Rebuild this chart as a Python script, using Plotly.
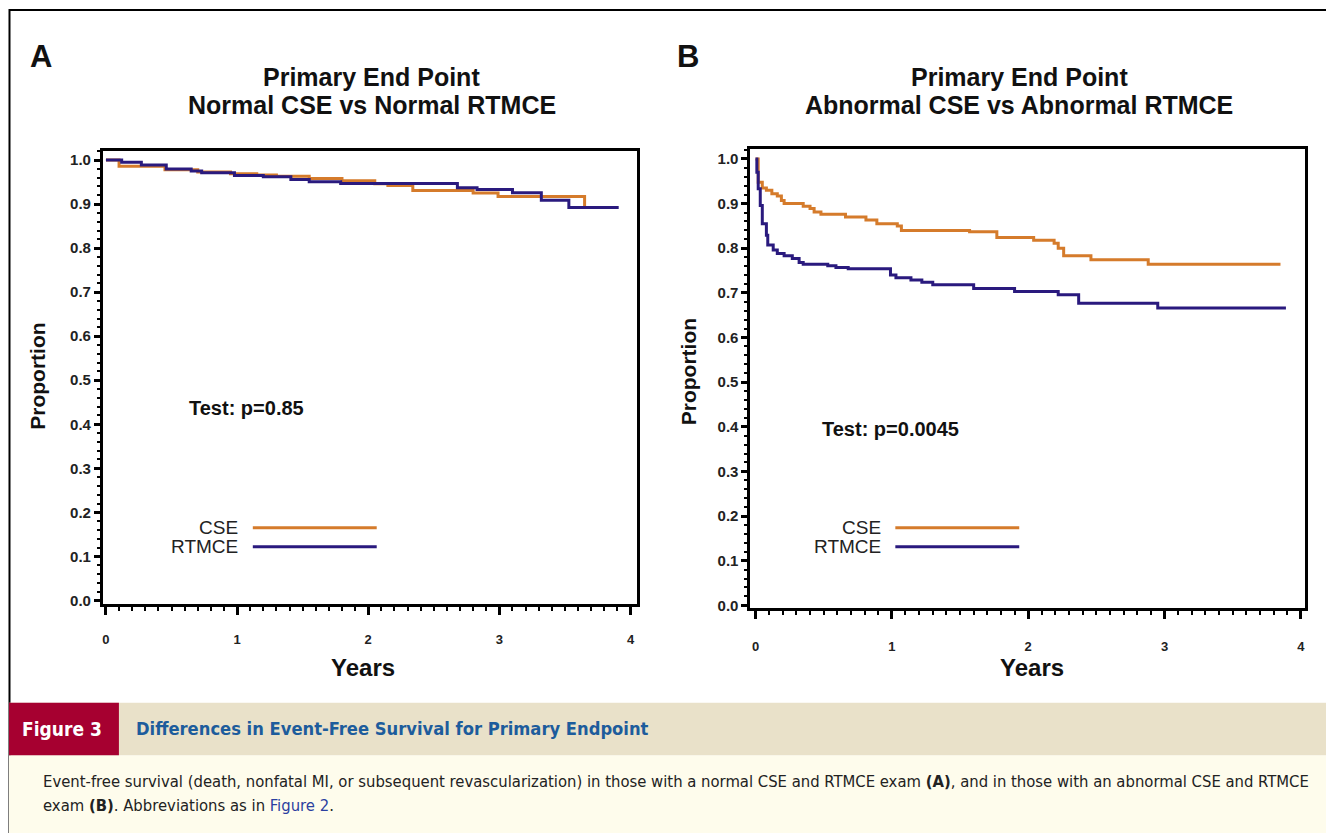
import plotly.graph_objects as go

# page body has an 8px margin; figure is sized and positioned to compensate
OFF = 8
W, H = 1334 - OFF, 833 - OFF

# ---------------- data ----------------
a_cse_t = [0, 0.10, 0.45, 0.70, 0.95, 1.15, 1.30, 1.55, 1.80, 2.05, 2.15, 2.34, 2.80, 2.99, 3.65]
a_cse_s = [1.0, 0.986, 0.978, 0.973, 0.969, 0.966, 0.963, 0.958, 0.953, 0.946, 0.942, 0.931, 0.925, 0.917, 0.892]
a_rt_t = [0, 0.12, 0.27, 0.46, 0.65, 0.73, 0.98, 1.20, 1.41, 1.55, 1.79, 2.68, 2.83, 3.10, 3.32, 3.53, 3.91]
a_rt_s = [1.0, 0.995, 0.989, 0.980, 0.975, 0.971, 0.965, 0.962, 0.956, 0.951, 0.947, 0.937, 0.933, 0.926, 0.909, 0.892, 0.892]

b_cse_t = [0, 0.02, 0.05, 0.08, 0.12, 0.16, 0.19, 0.21, 0.35, 0.40, 0.43, 0.48, 0.66, 0.81, 0.89,
           1.04, 1.07, 1.57, 1.77, 2.04, 2.19, 2.22, 2.26, 2.46, 2.88, 3.85]
b_cse_s = [1.0, 0.948, 0.935, 0.930, 0.922, 0.917, 0.907, 0.900, 0.894, 0.889, 0.881, 0.876, 0.870, 0.863, 0.855,
           0.850, 0.840, 0.837, 0.824, 0.818, 0.811, 0.800, 0.783, 0.774, 0.764, 0.764]
b_rt_t = [0, 0.01, 0.02, 0.035, 0.05, 0.08, 0.09, 0.13, 0.16, 0.21, 0.27, 0.32, 0.35, 0.53, 0.59, 0.68,
          0.99, 1.03, 1.14, 1.22, 1.30, 1.60, 1.90, 2.22, 2.37, 2.95, 3.89]
b_rt_s = [1.0, 0.97, 0.933, 0.896, 0.855, 0.829, 0.807, 0.796, 0.788, 0.783, 0.777, 0.768, 0.764, 0.761, 0.757, 0.754,
          0.740, 0.734, 0.729, 0.724, 0.718, 0.710, 0.703, 0.696, 0.677, 0.666, 0.666]

series_names = ["CSE", "RTMCE"]
x_ticks = [0, 1, 2, 3, 4]
y_ticks = [0.0, 0.1, 0.2, 0.3, 0.4, 0.5, 0.6, 0.7, 0.8, 0.9, 1.0]
y_ticktext = ["%.1f" % v for v in y_ticks]
p_values = ["Test: p=0.85", "Test: p=0.0045"]
panel_letters = ["A", "B"]
title_line1 = ["Primary End Point", "Primary End Point"]
title_line2 = ["Normal CSE vs Normal RTMCE", "Abnormal CSE vs Abnormal RTMCE"]

ORANGE = "#D57B2B"
NAVY = "#2A1A7E"
FONT = "Arial, Liberation Sans, Helvetica, sans-serif"
NARROW = "Liberation Sans Narrow, DejaVu Sans Condensed, Arial Narrow, sans-serif"


def px(x):
    return (x - OFF) / W


def py(y):
    return 1 - (y - OFF) / H


fig = go.Figure()
fig.add_trace(go.Scatter(x=a_cse_t, y=a_cse_s, mode="lines", line=dict(color=ORANGE, width=3, shape="hv"),
                         xaxis="x", yaxis="y", name=series_names[0]))
fig.add_trace(go.Scatter(x=a_rt_t, y=a_rt_s, mode="lines", line=dict(color=NAVY, width=3, shape="hv"),
                         xaxis="x", yaxis="y", name=series_names[1]))
fig.add_trace(go.Scatter(x=b_cse_t, y=b_cse_s, mode="lines", line=dict(color=ORANGE, width=3, shape="hv"),
                         xaxis="x2", yaxis="y2", name=series_names[0]))
fig.add_trace(go.Scatter(x=b_rt_t, y=b_rt_s, mode="lines", line=dict(color=NAVY, width=3, shape="hv"),
                         xaxis="x2", yaxis="y2", name=series_names[1]))


def xaxis_cfg(dom, rng, anchor, standoff):
    return dict(domain=dom, range=rng, anchor=anchor, showline=True, linecolor="black", linewidth=3,
                mirror=True, ticks="outside", ticklen=8, tickwidth=3, tickcolor="black",
                tickvals=x_ticks, ticktext=[str(v) for v in x_ticks], showgrid=False, zeroline=False,
                tickfont=dict(family=FONT, size=13, color="#222", weight="bold"),
                ticklabelstandoff=standoff,
                minor=dict(dtick=0.1, tick0=0, ticks="outside", ticklen=4, tickwidth=2, tickcolor="black",
                           showgrid=False))


def yaxis_cfg(dom, rng, anchor):
    return dict(domain=dom, range=rng, anchor=anchor, showline=True, linecolor="black", linewidth=3,
                mirror=True, ticks="outside", ticklen=6, tickwidth=3, tickcolor="black",
                tickvals=y_ticks, ticktext=y_ticktext, showgrid=False, zeroline=False,
                tickfont=dict(family=FONT, size=15, color="#222", weight="bold"),
                minor=dict(dtick=0.02, tick0=0, ticks="outside", ticklen=3, tickwidth=2, tickcolor="black",
                           showgrid=False))


layout = dict(
    width=W, height=H, paper_bgcolor="white", plot_bgcolor="white",
    margin=dict(l=0, r=0, t=0, b=0), showlegend=False,
    xaxis=xaxis_cfg([px(102), px(636)], [-0.023, 4.046], "y", 13),
    yaxis=yaxis_cfg([py(608), py(152)], [-0.009, 1.0203], "x"),
    xaxis2=xaxis_cfg([px(750), px(1305)], [-0.037, 4.03], "y2", 16),
    yaxis2=yaxis_cfg([py(612), py(150)], [-0.0067, 1.022], "x2"),
)
fig.update_layout(**layout)

ann = []
shapes = []

# outer border
shapes.append(dict(type="rect", xref="paper", yref="paper", x0=px(8.5), x1=px(1330), y0=py(845), y1=py(10),
                   line=dict(color="black", width=2), fillcolor="rgba(0,0,0,0)", layer="below"))

panels = [
    dict(cx=371, letter_x=40, prop_x=37, prop_y=378, years_x=362, test_x=186, test_y=410,
         leg_x=239, leg_l0=252, leg_l1=376, leg_y=[531, 550]),
    dict(cx=1019, letter_x=688, prop_x=688, prop_y=374, years_x=1032, test_x=820, test_y=432,
         leg_x=883, leg_l0=895, leg_l1=1019, leg_y=[531, 550]),
]
for i, p in enumerate(panels):
    ann.append(dict(x=px(p["letter_x"]), y=py(57), xref="paper", yref="paper", text=panel_letters[i],
                    showarrow=False, xanchor="center", yanchor="middle",
                    font=dict(family=FONT, size=31, color="#111", weight="bold")))
    ann.append(dict(x=px(p["cx"]), y=py(77), xref="paper", yref="paper", text=title_line1[i],
                    showarrow=False, xanchor="center", yanchor="middle",
                    font=dict(family=FONT, size=25, color="#111", weight="bold")))
    ann.append(dict(x=px(p["cx"]), y=py(106), xref="paper", yref="paper", text=title_line2[i],
                    showarrow=False, xanchor="center", yanchor="middle",
                    font=dict(family=FONT, size=25, color="#111", weight="bold")))
    ann.append(dict(x=px(p["prop_x"]), y=py(p["prop_y"]), xref="paper", yref="paper", text="Proportion",
                    showarrow=False, xanchor="center", yanchor="middle", textangle=-90,
                    font=dict(family=FONT, size=21, color="#111", weight="bold")))
    ann.append(dict(x=px(p["years_x"]), y=py(672), xref="paper", yref="paper", text="Years",
                    showarrow=False, xanchor="center", yanchor="middle",
                    font=dict(family=FONT, size=24, color="#111", weight="bold")))
    ann.append(dict(x=px(p["test_x"]), y=py(p["test_y"]), xref="paper", yref="paper", text=p_values[i],
                    showarrow=False, xanchor="left", yanchor="middle",
                    font=dict(family=FONT, size=20, color="#111", weight="bold")))
    for j, (nm, col) in enumerate(zip(series_names, [ORANGE, NAVY])):
        ann.append(dict(x=px(p["leg_x"]), y=py(p["leg_y"][j]), xref="paper", yref="paper", text=nm,
                        showarrow=False, xanchor="right", yanchor="middle",
                        font=dict(family=FONT, size=19, color="#222")))
        shapes.append(dict(type="line", xref="paper", yref="paper", x0=px(p["leg_l0"]), x1=px(p["leg_l1"]),
                           y0=py(p["leg_y"][j]), y1=py(p["leg_y"][j]), line=dict(color=col, width=3)))

# caption band
shapes.append(dict(type="rect", xref="paper", yref="paper", x0=px(8), x1=px(1330), y0=py(760), y1=py(707),
                   line=dict(width=0), fillcolor="#E9E1C9", layer="below"))
shapes.append(dict(type="rect", xref="paper", yref="paper", x0=px(8), x1=px(118), y0=py(760), y1=py(707),
                   line=dict(width=0), fillcolor="#A60030", layer="below"))
shapes.append(dict(type="rect", xref="paper", yref="paper", x0=px(8), x1=px(1330), y0=py(845), y1=py(760),
                   line=dict(width=0), fillcolor="#FEFCEC", layer="below"))

ann.append(dict(x=px(61), y=py(733), xref="paper", yref="paper", text="Figure 3", showarrow=False,
                xanchor="center", yanchor="middle", font=dict(family=NARROW, size=19, color="white", weight="bold")))
ann.append(dict(x=px(133), y=py(733), xref="paper", yref="paper",
                text="Differences in Event-Free Survival for Primary Endpoint", showarrow=False,
                xanchor="left", yanchor="middle", font=dict(family=NARROW, size=18.2, color="#1D5C9C", weight="bold")))
ann.append(dict(x=px(40), y=py(786), xref="paper", yref="paper",
                text="Event-free survival (death, nonfatal MI, or subsequent revascularization) in those with a normal CSE and RTMCE exam <b>(A)</b>, and in those with an abnormal CSE and RTMCE",
                showarrow=False, xanchor="left", yanchor="middle",
                font=dict(family=NARROW, size=16.5, color="#222")))
ann.append(dict(x=px(40), y=py(810), xref="paper", yref="paper",
                text="exam <b>(B)</b>. Abbreviations as in <span style='color:#2B3FA0'>Figure 2</span>.",
                showarrow=False, xanchor="left", yanchor="middle",
                font=dict(family=NARROW, size=16.5, color="#222")))

fig.update_layout(annotations=ann, shapes=shapes)
fig.write_html("out.html")
